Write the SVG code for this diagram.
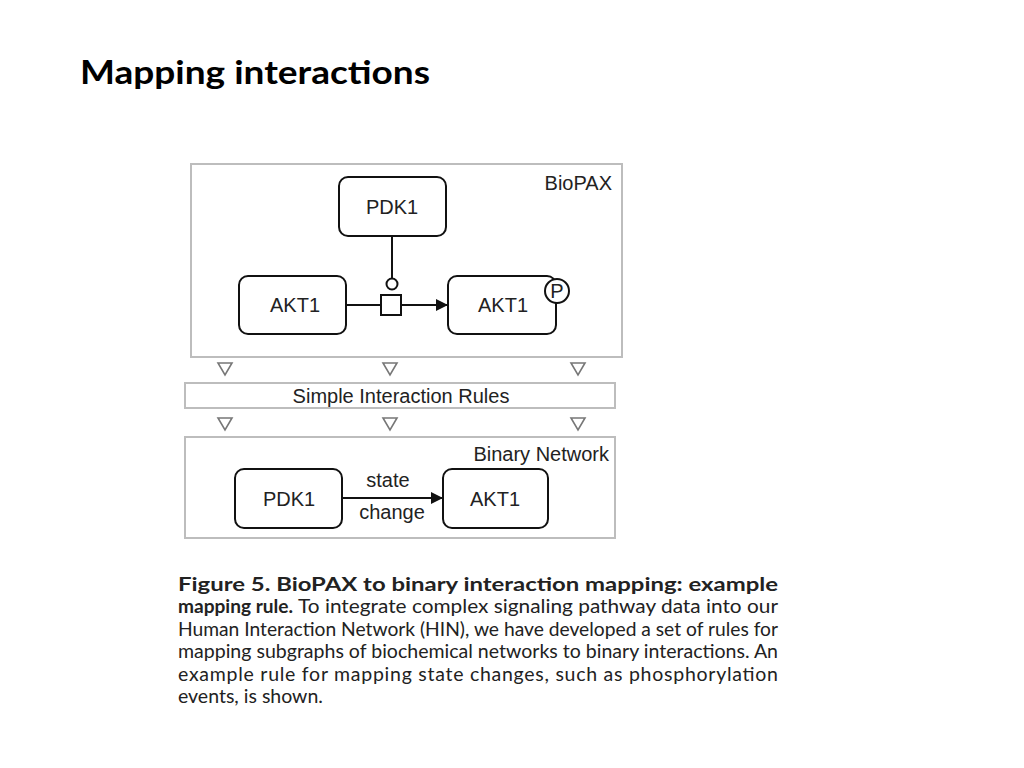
<svg xmlns="http://www.w3.org/2000/svg" width="1024" height="768" viewBox="0 0 1024 768">
<style>
.frame{fill:#fff;stroke:#bdbdbd;stroke-width:2}
.node{fill:#fff;stroke:#111;stroke-width:2}
.lbl{font-family:"Liberation Sans",Arial,sans-serif;font-size:20px;fill:#222}
.edge{stroke:#111;stroke-width:2;fill:none}
.tri{fill:#fff;stroke:#777;stroke-width:1.6}
.cap{font-family:Lato,"Open Sans",sans-serif;font-size:19.5px;fill:#222}
.b{font-weight:bold}
</style>
<defs>
<marker id="ah" viewBox="0 0 10 10" refX="10" refY="5" markerWidth="7" markerHeight="6" orient="auto" markerUnits="strokeWidth">
<path d="M0,0 L10,5 L0,10 z" fill="#111"/>
</marker>
<path id="dtri" d="M-7,-6 L7,-6 L0,6 z"/>
</defs>
<rect width="1024" height="768" fill="#fff"/>
<text x="80" y="84" font-family="Lato,'Open Sans',sans-serif" font-weight="bold" font-size="32" fill="#000" textLength="350" lengthAdjust="spacingAndGlyphs">Mapping interactions</text>

<g id="biopax-frame">
<rect class="frame" x="191" y="164" width="431" height="193"/>
<text class="lbl" x="612" y="190" text-anchor="end">BioPAX</text>
</g>
<g id="arrows-down">
<use href="#dtri" class="tri" x="225" y="369"/>
<use href="#dtri" class="tri" x="390" y="369"/>
<use href="#dtri" class="tri" x="578" y="369"/>
<use href="#dtri" class="tri" x="225" y="424"/>
<use href="#dtri" class="tri" x="390" y="424"/>
<use href="#dtri" class="tri" x="578" y="424"/>
</g>
<g id="rules">
<rect class="frame" x="185" y="383" width="430" height="25"/>
<text class="lbl" x="401" y="403" text-anchor="middle">Simple Interaction Rules</text>
</g>
<g id="binary-frame">
<rect class="frame" x="185" y="437" width="430" height="101"/>
<text class="lbl" x="609" y="461" text-anchor="end">Binary Network</text>
</g>
<g id="pdk1-top">
<rect class="node" x="339" y="177" width="107" height="59" rx="9"/>
<text class="lbl" x="392" y="214" text-anchor="middle">PDK1</text>
</g>
<g id="akt1-left">
<rect class="node" x="239" y="276" width="107" height="58" rx="9"/>
<text class="lbl" x="295" y="312" text-anchor="middle">AKT1</text>
</g>
<g id="akt1-right">
<rect class="node" x="448" y="276" width="108" height="58" rx="9"/>
<text class="lbl" x="503" y="312" text-anchor="middle">AKT1</text>
<circle cx="557" cy="291" r="12" fill="#fff" stroke="#111" stroke-width="2"/>
<text class="lbl" x="557" y="298" text-anchor="middle">P</text>
</g>
<g id="pdk1-bin">
<rect class="node" x="235" y="469" width="107" height="59" rx="9"/>
<text class="lbl" x="289" y="506" text-anchor="middle">PDK1</text>
</g>
<g id="akt1-bin">
<rect class="node" x="443" y="469" width="105" height="59" rx="9"/>
<text class="lbl" x="495" y="506" text-anchor="middle">AKT1</text>
</g>
<g id="connectors">
<line class="edge" x1="392" y1="236" x2="392" y2="279"/>
<circle cx="392" cy="284" r="5.5" fill="#fff" stroke="#111" stroke-width="2"/>
<line class="edge" x1="346" y1="305" x2="381" y2="305"/>
<line class="edge" x1="401" y1="305" x2="448" y2="305" marker-end="url(#ah)"/>
<rect x="381" y="295" width="20" height="20" fill="#fff" stroke="#111" stroke-width="2"/>
<line class="edge" x1="342" y1="498" x2="443" y2="498" marker-end="url(#ah)"/>
<text class="lbl" x="388" y="487" text-anchor="middle">state</text>
<text class="lbl" x="392" y="519" text-anchor="middle">change</text>
</g>

<g id="caption">
<text class="cap b" x="178" y="591" textLength="600" lengthAdjust="spacingAndGlyphs">Figure 5. BioPAX to binary interaction mapping: example</text>
<text class="cap b" x="178" y="613" textLength="115" lengthAdjust="spacingAndGlyphs">mapping rule.</text>
<text class="cap" x="298" y="613" textLength="480" lengthAdjust="spacingAndGlyphs">To integrate complex signaling pathway data into our</text>
<text class="cap" x="178" y="636" textLength="600" lengthAdjust="spacingAndGlyphs">Human Interaction Network (HIN), we have developed a set of rules for</text>
<text class="cap" x="178" y="658" textLength="600" lengthAdjust="spacingAndGlyphs">mapping subgraphs of biochemical networks to binary interactions. An</text>
<text class="cap" x="178" y="681" textLength="600" lengthAdjust="spacing">example rule for mapping state changes, such as phosphorylation</text>
<text class="cap" x="178" y="703">events, is shown.</text>
</g>
</svg>
